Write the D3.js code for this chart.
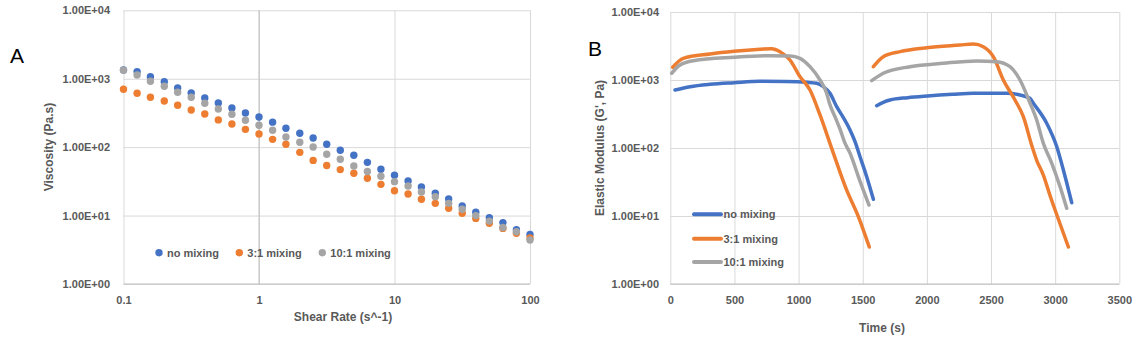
<!DOCTYPE html>
<html>
<head>
<meta charset="utf-8">
<script src="https://cdn.jsdelivr.net/npm/d3@7"></script>
<style>
	body { margin: 0; background: #fff; }
	text { font-family: "Liberation Sans", Arial, sans-serif; }
</style>
</head>
<body>
<script>

// ---- panel A data (viscosity vs shear rate) ----
let shearRate = [0.1, 0.126, 0.158, 0.2, 0.251, 0.316, 0.398, 0.501, 0.631, 0.794, 1, 1.26, 1.58, 2, 2.51, 3.16, 3.98, 5.01, 6.31, 7.94, 10, 12.6, 15.8, 20, 25.1, 31.6, 39.8, 50.1, 63.1, 79.4, 100];
let noMixingVisc = [1340, 1270, 1070, 905, 732, 619, 523, 442, 373, 316, 276, 232, 189, 160, 136, 110, 90, 76, 60, 47.5, 38.9, 32, 26.2, 21.2, 17.5, 13.8, 11.2, 9.3, 7.9, 6.2, 5.3];
let mix31Visc = [700, 612, 535, 473, 409, 349, 305, 250, 218, 182, 156, 130, 110, 84, 64, 54, 47, 41.5, 35.2, 28.6, 23.1, 20.7, 17.3, 15.1, 12.8, 10.8, 9.1, 7.7, 6.5, 5.5, 4.7];
let mix101Visc = [1330, 1135, 918, 776, 634, 535, 438, 361, 302, 247, 209, 177, 141, 118, 100.5, 78.7, 66.5, 53, 44.1, 37.5, 31.3, 27.1, 22.1, 18.9, 15.1, 12.4, 10, 8.3, 6.7, 5.8, 4.4];

// ---- panel B data (G' vs time), two runs per series: [time, G'] ----
let noMixingRun1 = [[37, 713], [154, 797], [310, 864], [497, 912], [699, 955], [900, 950], [1063, 925], [1141, 894], [1193, 797], [1245, 637], [1297, 405], [1349, 280], [1401, 184], [1440, 124], [1479, 74.5], [1531, 37.8], [1583, 17.6]];
let noMixingRun2 = [[1609, 419], [1660, 470], [1713, 508], [1850, 550], [2006, 582], [2200, 615], [2362, 637], [2622, 637], [2726, 602], [2802, 538], [2830, 454], [2934, 231], [3012, 105], [3064, 47.5], [3129, 15.7]];
let mix31Run1 = [[19, 1540], [101, 2085], [310, 2410], [497, 2640], [699, 2830], [790, 2890], [855, 2610], [933, 1970], [1011, 1120], [1089, 713], [1167, 306], [1258, 99], [1375, 24], [1466, 9.8], [1551, 3.5]];
let mix31Run2 = [[1583, 1570], [1660, 2200], [1790, 2610], [1999, 2990], [2258, 3270], [2362, 3380], [2440, 3090], [2518, 2200], [2596, 1000], [2687, 508], [2752, 289], [2817, 110], [2856, 66], [2908, 40], [2960, 20], [3040, 7.5], [3103, 3.5]];
let mix101Run1 = [[11, 1256], [76, 1662], [179, 1923], [497, 2158], [777, 2277], [933, 2254], [1011, 2085], [1089, 1570], [1167, 1000], [1219, 637], [1240, 460], [1290, 270], [1323, 190], [1360, 120], [1401, 84], [1430, 60], [1466, 38], [1549, 14.5]];
let mix101Run2 = [[1570, 977], [1660, 1256], [1868, 1570], [2128, 1762], [2388, 1903], [2544, 1859], [2648, 1570], [2726, 1000], [2804, 459], [2856, 258], [2908, 117], [2973, 60], [3038, 27], [3090, 13]];

let seriesNames = ["no mixing", "3:1 mixing", "10:1 mixing"];
let seriesColors = ["#4472C4", "#ED7D31", "#A5A5A5"];

let logTicks = [1, 10, 100, 1000, 10000];
let shearTicks = [0.1, 1, 10, 100];
let timeTicks = [0, 500, 1000, 1500, 2000, 2500, 3000, 3500];

let svg = d3.select("body").append("svg")
	.attr("width", 1144)
	.attr("height", 345);

svg.append("rect").attr("width", 1144).attr("height", 345).attr("fill", "#fff");

// 1.00E+04 style labels like excel
function sci(d) {
	let parts = d.toExponential(2).split("e");
	let sign = parts[1][0];
	return parts[0] + "E" + sign + parts[1].slice(1).padStart(2, "0");
}

function styleAxis(g) {
	g.select(".domain").remove();
	g.selectAll(".tick line").attr("stroke", "#d9d9d9");
	g.selectAll(".tick text")
		.attr("fill", "#595959")
		.attr("font-size", 11)
		.attr("font-weight", "bold")
		.attr("font-family", "Liberation Sans, Arial, sans-serif");
}

/* ---------------- panel A ---------------- */

let xA = d3.scaleLog().domain([0.1, 100]).range([123.5, 530]);
let yA = d3.scaleLog().domain([1, 10000]).range([284, 10.3]);

let gA = svg.append("g");

gA.append("g")
	.attr("transform", "translate(123.5,0)")
	.call(d3.axisLeft(yA).tickValues(logTicks).tickFormat(sci).tickSize(-(530 - 123.5)).tickPadding(13.5))
	.call(styleAxis);

gA.append("g")
	.attr("transform", "translate(0,284)")
	.call(d3.axisBottom(xA).tickValues(shearTicks).tickFormat(d3.format("")).tickSize(-(284 - 10.3)).tickPadding(12))
	.call(styleAxis);

// axis lines (vertical axis crosses at 1 on a log axis)
gA.append("line").attr("x1", xA(1)).attr("x2", xA(1)).attr("y1", 10.3).attr("y2", 284).attr("stroke", "#bfbfbf");
gA.append("line").attr("x1", 123.5).attr("x2", 530).attr("y1", 284).attr("y2", 284).attr("stroke", "#bfbfbf");

let viscSeries = [noMixingVisc, mix31Visc, mix101Visc];
viscSeries.forEach(function(vals, k) {
	gA.append("g").selectAll("circle")
		.data(vals)
		.enter().append("circle")
		.attr("cx", (d, i) => xA(shearRate[i]))
		.attr("cy", d => yA(d))
		.attr("r", 3.7)
		.attr("fill", seriesColors[k]);
});

// legend A
let legA = [159, 239.3, 322.3];
seriesNames.forEach(function(name, k) {
	gA.append("circle").attr("cx", legA[k]).attr("cy", 252.7).attr("r", 3.7).attr("fill", seriesColors[k]);
	gA.append("text").attr("x", legA[k] + 8).attr("y", 252.7).attr("dy", "0.35em")
		.attr("font-size", 11).attr("font-weight", "bold").attr("fill", "#595959")
		.text(name);
});

gA.append("text")
	.attr("transform", "translate(53,147) rotate(-90)")
	.attr("text-anchor", "middle")
	.attr("font-size", 12).attr("font-weight", "bold").attr("fill", "#595959")
	.text("Viscosity (Pa.s)");

gA.append("text")
	.attr("x", 343).attr("y", 321)
	.attr("text-anchor", "middle")
	.attr("font-size", 12).attr("font-weight", "bold").attr("fill", "#595959")
	.text("Shear Rate (s^-1)");

gA.append("text").attr("x", 10).attr("y", 63).attr("font-size", 21).attr("fill", "#000").text("A");

/* ---------------- panel B ---------------- */

let xB = d3.scaleLinear().domain([0, 3500]).range([670.3, 1119.3]);
let yB = d3.scaleLog().domain([1, 10000]).range([284, 12]);

let gB = svg.append("g");

gB.append("g")
	.attr("transform", "translate(670.3,0)")
	.call(d3.axisLeft(yB).tickValues(logTicks).tickFormat(sci).tickSize(-(1119.3 - 670.3)).tickPadding(11.3))
	.call(styleAxis);

gB.append("g")
	.attr("transform", "translate(0,284)")
	.call(d3.axisBottom(xB).tickValues(timeTicks).tickFormat(d3.format("")).tickSize(-(284 - 12)).tickPadding(12.5))
	.call(styleAxis);

gB.append("line").attr("x1", 670.3).attr("x2", 1119.3).attr("y1", 284).attr("y2", 284).attr("stroke", "#bfbfbf");

let line = d3.line()
	.x(d => xB(d[0]))
	.y(d => yB(d[1]))
	.curve(d3.curveMonotoneX);

let runs = [[noMixingRun1, noMixingRun2], [mix31Run1, mix31Run2], [mix101Run1, mix101Run2]];
runs.forEach(function(pair, k) {
	pair.forEach(function(run) {
		gB.append("path")
			.attr("d", line(run))
			.attr("fill", "none")
			.attr("stroke", seriesColors[k])
			.attr("stroke-width", 3.5)
			.attr("stroke-linecap", "round")
			.attr("stroke-linejoin", "round");
	});
});

// legend B
let legBy = [214.3, 238.7, 262];
seriesNames.forEach(function(name, k) {
	gB.append("line").attr("x1", 694).attr("x2", 721).attr("y1", legBy[k]).attr("y2", legBy[k])
		.attr("stroke", seriesColors[k]).attr("stroke-width", 4).attr("stroke-linecap", "round");
	gB.append("text").attr("x", 723.5).attr("y", legBy[k]).attr("dy", "0.35em")
		.attr("font-size", 11).attr("font-weight", "bold").attr("fill", "#595959")
		.text(name);
});

gB.append("text")
	.attr("transform", "translate(604,148) rotate(-90)")
	.attr("text-anchor", "middle")
	.attr("font-size", 12).attr("font-weight", "bold").attr("fill", "#595959")
	.text("Elastic Modulus (G', Pa)");

gB.append("text")
	.attr("x", 882).attr("y", 331.5)
	.attr("text-anchor", "middle")
	.attr("font-size", 12).attr("font-weight", "bold").attr("fill", "#595959")
	.text("Time (s)");

gB.append("text").attr("x", 588).attr("y", 55.5).attr("font-size", 21).attr("fill", "#000").text("B");

</script>
</body>
</html>
